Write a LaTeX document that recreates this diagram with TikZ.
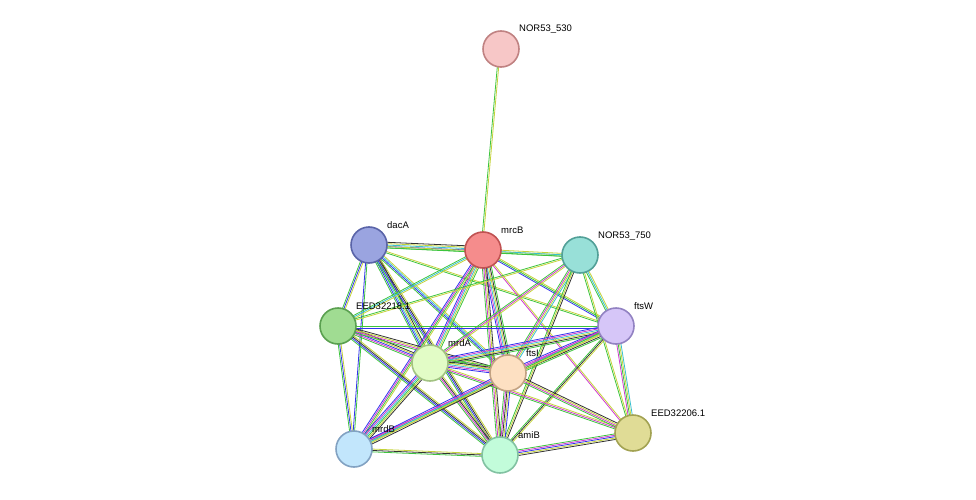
\documentclass[tikz,border=0pt]{standalone}
\usepackage{fontspec}
\setmainfont{Liberation Sans}
\usetikzlibrary{calc,backgrounds}
\definecolor{cg}{HTML}{3DC43D}
\definecolor{cy}{HTML}{C4D33A}
\definecolor{cb}{HTML}{3333EE}
\definecolor{cm}{HTML}{D03AD0}
\definecolor{cc}{HTML}{3AC0D0}
\definecolor{ck}{HTML}{333333}
\newcommand\stredge[3]{%
  \foreach [count=\i] \c in {#3} {
    \pgfmathsetmacro\off{(\i-2.5)*1.4}
    \draw[draw=\c, line width=0.8pt] ($(#1)!\off pt!90:(#2)$) -- ($(#2)!\off pt!-90:(#1)$);
  }}
\begin{document}
\begin{tikzpicture}[x=1pt,y=-1pt,
  prot/.style={circle, minimum size=36pt, inner sep=0pt, line width=1.6pt},
  lab/.style={anchor=base west, font=\fontsize{9.5}{11}\selectfont, inner sep=0pt}]
\useasboundingbox (0,0) rectangle (976,500);
\def\pr#1#2#3#4#5#6{\definecolor{f#1}{HTML}{#4}\definecolor{d#1}{HTML}{#5}%
  \node[prot, fill=f#1, draw=d#1] (#1) at (#2,#3) {};
  \node[lab] (#1l) at (#2+18,#3-17) {#6};}
\pr{n530}{501}{49}{F7C7C7}{C08282}{NOR53\_530}
\pr{dacA}{369}{245}{9AA4E0}{5A64A8}{dacA}
\pr{mrcB}{483}{250}{F58C8C}{C05252}{mrcB}
\pr{n750}{580}{255}{98E0D8}{52A098}{NOR53\_750}
\pr{e18}{338}{326}{A0DC92}{5AA050}{EED32218.1}
\pr{ftsW}{616}{326}{D6C6F8}{9282C2}{ftsW}
\pr{mrdA}{430}{363}{E2FCC6}{A2C282}{mrdA}
\pr{ftsI}{508}{373}{FDE0C2}{C2A282}{ftsI}
\pr{e06}{633}{433}{E0DC96}{A2A252}{EED32206.1}
\pr{mrdB}{354}{449}{C2E6FC}{82A2C2}{mrdB}
\pr{amiB}{500}{455}{C2FCDA}{82C2A2}{amiB}
\begin{scope}[on background layer]
\stredge{n530}{mrcB}{cg,cy}
\stredge{dacA}{mrcB}{cg,cb,cc,cy,ck}
\stredge{dacA}{n750}{cg,cy}
\stredge{dacA}{e18}{cg,cb,cy}
\stredge{dacA}{ftsW}{cg,cy}
\stredge{dacA}{mrdA}{cg,cb,cc,cy,ck}
\stredge{dacA}{ftsI}{cg,cb,cc,cy}
\stredge{dacA}{mrdB}{cb,cg}
\stredge{dacA}{amiB}{cg,cb,ck,cy}
\stredge{mrcB}{n750}{cg,cc,cy}
\stredge{mrcB}{e18}{cg,cc,cy}
\stredge{mrcB}{ftsW}{cb,cg,cy}
\stredge{mrcB}{mrdA}{cb,cm,cc,cy,cg}
\stredge{mrcB}{ftsI}{cb,cm,cc,cy,ck,cg}
\stredge{mrcB}{e06}{cm,cy}
\stredge{mrcB}{mrdB}{cb,cm,cg,cy}
\stredge{mrcB}{amiB}{cg,cm,cy,ck}
\stredge{n750}{e18}{cg,cy}
\stredge{n750}{ftsW}{cg,cc,cy}
\stredge{n750}{mrdA}{cg,cm,cy}
\stredge{n750}{ftsI}{cg,cm,cy,cc}
\stredge{n750}{e06}{cg,cy}
\stredge{n750}{amiB}{cg,cy,ck}
\stredge{e18}{ftsW}{cb,cg}
\stredge{e18}{mrdA}{cg,cm,cb,cy,ck}
\stredge{e18}{ftsI}{cg,cm,cy,ck}
\stredge{e18}{mrdB}{cg,cb,cy}
\stredge{e18}{amiB}{cg,cb,ck,cy}
\stredge{ftsW}{mrdA}{cb,cm,cc,cy,ck,cg}
\stredge{ftsW}{ftsI}{cb,cm,cc,cy,ck,cg}
\stredge{ftsW}{e06}{cm,cg,cy,cc}
\stredge{ftsW}{mrdB}{cm,cg,cy}
\stredge{ftsW}{amiB}{cg,ck,cy}
\stredge{mrdA}{ftsI}{cb,cm,cc,cy,ck,cg}
\stredge{mrdA}{e06}{cg,cm,cy}
\stredge{mrdA}{mrdB}{cb,cm,cc,cg,cy,ck}
\stredge{mrdA}{amiB}{cg,cm,ck,cy}
\stredge{ftsI}{e06}{cg,cm,cy,ck}
\stredge{ftsI}{mrdB}{cb,cm,cc,cy,ck}
\stredge{ftsI}{amiB}{cg,cm,ck,cy,cb}
\stredge{e06}{amiB}{cg,cm,cb,cy,ck}
\stredge{mrdB}{amiB}{cg,ck,cy}
\end{scope}
\end{tikzpicture}
\end{document}
